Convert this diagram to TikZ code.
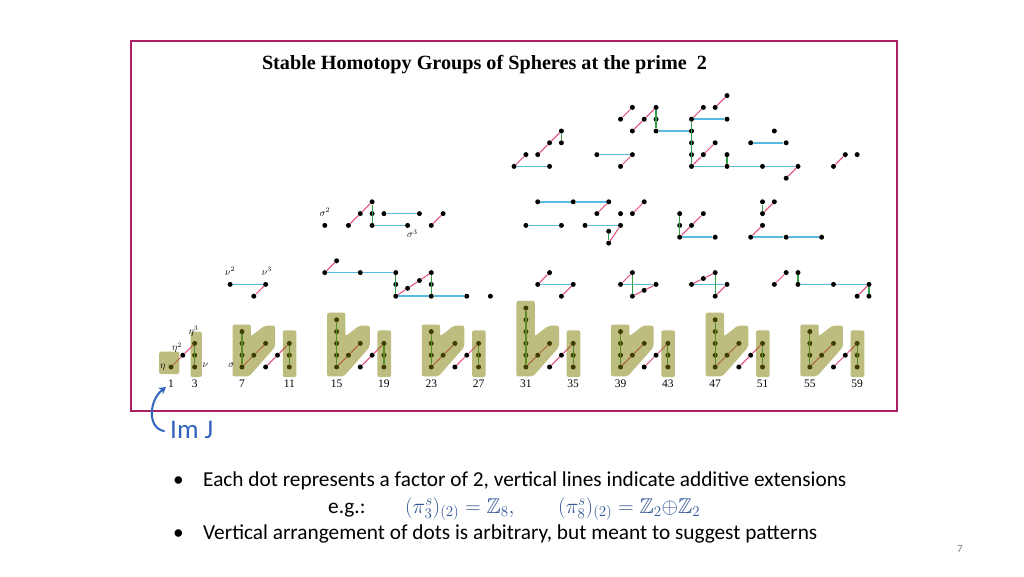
\RequirePackage{fix-cm}
\documentclass[tikz,border=0pt]{standalone}
\usepackage{amsmath,amssymb}
\usepackage{graphicx}
\usepackage{fontspec}
\usetikzlibrary{arrows.meta}
\newfontfamily\bodyfont{Carlito}
\newfontfamily\chartfont{Liberation Serif}
\definecolor{framecol}{RGB}{172,32,102}
\definecolor{hcol}{RGB}{88,186,222}
\definecolor{etacol}{RGB}{228,72,122}
\definecolor{extcol}{RGB}{52,160,72}
\definecolor{patchcol}{RGB}{125,125,0}
\definecolor{mathcol}{RGB}{47,85,151}
\definecolor{imcol}{RGB}{48,100,190}

\begin{document}
\begin{tikzpicture}[x=1pt, y=-1pt,
    dot/.style={circle, fill=black, inner sep=0pt, minimum size=5pt},
    hmul/.style={draw=hcol, line width=1.7pt},
    etamul/.style={draw=etacol, line width=1pt},
    extn/.style={draw=extcol, line width=1.2pt},
    jpatch/.style={fill=patchcol, fill opacity=0.5, rounded corners=2pt},
    stemlab/.style={font=\chartfont\fontsize{11.5}{12}\selectfont, inner sep=0pt},
    gen/.style={font=\fontsize{10}{11}\selectfont, inner sep=0pt},
    bodytext/.style={font=\bodyfont\fontsize{21.3}{24}\selectfont, anchor=base west, inner sep=0pt}
]

\fill[white] (0,0) rectangle (1024,576);
\useasboundingbox (0,0) rectangle (1024,576);

% Frame and title
\draw[framecol, line width=2pt] (131,41) rectangle (897,411);
\node[anchor=base, inner sep=0pt] (title) at (484.5,69)
    {\resizebox{445pt}{!}{\chartfont\bfseries Stable Homotopy Groups of Spheres at the prime\ \ 2}};

% Chart (stem, row)
\begin{scope}[shift={(159.17,367)}, x=11.83pt, y=11.8pt]

% Dots, upper band
\foreach \s/\r in {30/17,31/18,32/18,33/17,33/19,34/20,34/19,
    37/18,40/18,39/17,39/21,40/22,40/20,41/21,42/22,42/21,42/20,
    45/21,45/20,45/19,45/18,45/17,46/22,47/22,48/23,48/21,
    46/18,47/19,48/18,48/17,51/17,54/17,53/16,
    50/19,53/19,52/20,57/17,58/18,59/18}
    \node[dot] (\s-\r) at (\s,\r) {};

% Dots, middle bands
\foreach \s/\r in {14/12,16/12,17/13,18/14,18/13,18/12,19/13,22/13,21/12,23/12,24/13,
    32/14,35/14,38/14,37/13,39/13,40/13,41/14,31/12,34/12,36/12,39/12,
    44/13,44/12,44/11,45/12,46/13,47/11,
    51/14,51/13,52/14,51/12,50/11,53/11,56/11,
    6/7,9/7,8/6,14/8,15/9,17/8,20/8,20/7,20/6,23/8,23/7,23/6,26/6,28/6,
    32/7,33/8,35/7,34/6,39/7,40/8,40/6,42/7,
    45/7,47/8,48/7,47/6,52/7,53/8,54/8,54/7,57/7,60/7,59/6,60/6}
    \node[dot] (\s-\r) at (\s,\r) {};
\node[dot] (38-11a) at (38,11.5) {};
\node[dot] (38-10a) at (38,10.5) {};
\node[dot] (21-6a) at (21,6.67) {};
\node[dot] (22-7a) at (22,7.33) {};
\node[dot] (41-6a) at (41,6.5) {};
\node[dot] (46-7a) at (46,7.5) {};

% Edges, upper band
\draw[hmul] (30-17) -- (33-17);
\draw[hmul] (37-18) -- (40-18);
\draw[hmul] (42-20) -- (45-20);
\draw[hmul] (45-21) -- (48-21);
\draw[hmul] (45-17) -- (48-17) -- (51-17) -- (54-17);
\draw[hmul] (50-19) -- (53-19);
\draw[etamul] (30-17) -- (31-18);
\draw[etamul] (32-18) -- (33-19) -- (34-20);
\draw[etamul] (40-18) -- (39-17);
\draw[etamul] (39-21) -- (40-22);
\draw[etamul] (40-20) -- (41-21) -- (42-22);
\draw[etamul] (45-21) -- (46-22);
\draw[etamul] (47-22) -- (48-23);
\draw[etamul] (45-17) -- (46-18) -- (47-19);
\draw[etamul] (54-17) -- (53-16);
\draw[etamul] (57-17) -- (58-18);
\draw[extn] (34-20) -- (34-19);
\draw[extn] (42-22) -- (42-20);
\draw[extn] (45-21) -- (45-17);
\draw[extn] (48-18) -- (48-17);

% Edges, middle bands
\draw[hmul] (19-13) -- (22-13);
\draw[hmul] (18-12) -- (21-12);
\draw[hmul] (32-14) -- (35-14) -- (38-14);
\draw[hmul] (31-12) -- (34-12);
\draw[hmul] (36-12) -- (39-12);
\draw[hmul] (44-11) -- (47-11);
\draw[hmul] (50-11) -- (53-11) -- (56-11);
\draw[etamul] (16-12) -- (17-13) -- (18-14);
\draw[etamul] (23-12) -- (24-13);
\draw[etamul] (38-14) -- (37-13);
\draw[etamul] (40-13) -- (41-14);
\draw[etamul] (39-12) -- (38-10a);
\draw[etamul] (44-11) -- (45-12) -- (46-13);
\draw[etamul] (51-13) -- (52-14);
\draw[etamul] (50-11) -- (51-12);
\draw[extn] (18-14) -- (18-12);
\draw[extn] (38-11a) -- (38-10a);
\draw[extn] (44-13) -- (44-11);
\draw[extn] (51-14) -- (51-13);

\draw[hmul] (6-7) -- (9-7);
\draw[hmul] (14-8) -- (17-8) -- (20-8);
\draw[hmul] (20-6) -- (23-6) -- (26-6);
\draw[hmul] (32-7) -- (35-7);
\draw[hmul] (39-7) -- (42-7);
\draw[hmul] (45-7) -- (48-7);
\draw[hmul] (54-7) -- (57-7) -- (60-7);
\draw[etamul] (8-6) -- (9-7);
\draw[etamul] (14-8) -- (15-9);
\draw[etamul] (20-6) -- (21-6a) -- (22-7a) -- (23-8);
\draw[etamul] (32-7) -- (33-8);
\draw[etamul] (35-7) -- (34-6);
\draw[etamul] (39-7) -- (40-8);
\draw[etamul] (40-6) -- (41-6a) -- (42-7);
\draw[etamul] (45-7) -- (46-7a) -- (47-8);
\draw[etamul] (47-6) -- (48-7);
\draw[etamul] (52-7) -- (53-8);
\draw[etamul] (60-7) -- (59-6);
\draw[extn] (20-8) -- (20-6);
\draw[extn] (23-8) -- (23-6);
\draw[extn] (40-8) -- (40-6);
\draw[extn] (47-8) -- (47-6);
\draw[extn] (54-8) -- (54-7);
\draw[extn] (60-7) -- (60-6);

% Image of J
\foreach \s/\r in {1/0,2/1,3/0,3/1,3/2}
    \node[dot] (\s-\r) at (\s,\r) {};
\draw[etamul] (1-0) -- (2-1) -- (3-2);
\draw[extn] (3-0) -- (3-2);
\foreach \s/\h in {7/3,15/4,23/3,31/5,39/3,47/4,55/3}{
    \pgfmathtruncatemacro\sa{\s+1}
    \pgfmathtruncatemacro\sb{\s+2}
    \foreach \r in {0,...,\h}
        \node[dot] (\s-\r) at (\s,\r) {};
    \node[dot] (\sa-1) at (\sa,1) {};
    \node[dot] (\sb-2) at (\sb,2) {};
    \draw[extn] (\s-0) -- (\s-\h);
    \draw[etamul] (\s-0) -- (\sa-1) -- (\sb-2);
}
\foreach \t in {11,19,...,59}{
    \pgfmathtruncatemacro\ta{\t-2}
    \pgfmathtruncatemacro\tb{\t-1}
    \node[dot] (\ta-0) at (\ta,0) {};
    \node[dot] (\tb-1) at (\tb,1) {};
    \foreach \r in {0,1,2}
        \node[dot] (\t-\r) at (\t,\r) {};
    \draw[etamul] (\ta-0) -- (\tb-1) -- (\t-2);
    \draw[extn] (\t-0) -- (\t-2);
}

% Patches
\fill[jpatch] (0,-0.6) rectangle (1.7,1.3);
\fill[jpatch] (2.65,-0.85) rectangle (3.6,3.0);
\foreach \s/\h in {7/3,15/4,23/3,31/5,39/3,47/4,55/3}
    \fill[jpatch] ({\s-0.8},-0.8) -- ({\s-0.8},{\h+0.6}) -- ({\s+0.75},{\h+0.6})
        -- ({\s+0.75},2.6) -- ({\s+1.9},3.5) -- ({\s+2.8},3.5) -- ({\s+2.8},1.7)
        -- ({\s+0.6},-0.8) -- cycle;
\foreach \t in {11,19,...,59}
    \fill[jpatch] ({\t-0.55},-0.85) rectangle ({\t+0.6},3.1);

% Labels
\node[gen] (eta) at (0.3,0) {$\eta$};
\node[gen] (eta2) at (1.5,1.65) {$\eta^2$};
\node[gen] (eta3) at (2.9,3.05) {$\eta^3$};
\node[gen] (nu) at (3.9,0.1) {$\nu$};
\node[gen] (sigma) at (6.1,0.1) {$\sigma$};
\node[gen] (nu2) at (6,8.1) {$\nu^2$};
\node[gen] (nu3) at (9.1,8.1) {$\nu^3$};
\node[gen] (sigma2) at (14,13.1) {$\sigma^2$};
\node[gen] (sigma3) at (21.4,11.3) {$\sigma^3$};
\foreach \n in {1,3,7,11,...,59}
    \node[stemlab] (n\n) at (\n,-1.4) {\n};
\end{scope}

% Im J annotation
\coordinate (imstart) at (164,431);
\coordinate (imtip) at (166,387);
\draw[imcol, line width=2pt, line cap=round, -{Stealth[length=7pt, width=8pt]}]
    (imstart) .. controls (147,428) and (149,400) .. (imtip);
\node[font=\bodyfont\fontsize{27}{30}\selectfont, text=imcol, anchor=base west,
    inner sep=0pt] (imj) at (170,438) {Im J};

% Bullet text
\node[bodytext] (bul1) at (173,486) {•};
\node[bodytext] (line1) at (203,486)
    {Each dot represents a factor of 2, vertical lines indicate additive extensions};
\node[bodytext] (eg) at (328,513) {e.g.:};
\node[bodytext, text=mathcol] (ex1) at (405,513) {$(\pi_3^s)_{(2)} = \mathbb{Z}_8,$};
\node[bodytext, text=mathcol] (ex2) at (558,513) {$(\pi_8^s)_{(2)} = \mathbb{Z}_2{\oplus}\mathbb{Z}_2$};
\node[bodytext] (bul2) at (173,539) {•};
\node[bodytext] (line3) at (203,539)
    {Vertical arrangement of dots is arbitrary, but meant to suggest patterns};
\node[font=\bodyfont\fontsize{11}{12}\selectfont, text=gray, inner sep=0pt] (page) at (960,549) {7};

\end{tikzpicture}
\end{document}
